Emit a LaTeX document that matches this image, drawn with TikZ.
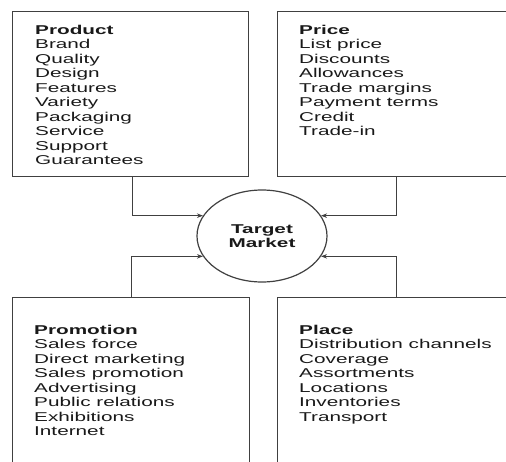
\documentclass[tikz,border=0pt]{standalone}
\usepackage{fontspec}
\setmainfont{Liberation Sans}[FakeStretch=1.62]
\usetikzlibrary{shapes.geometric,arrows.meta}

\begin{document}
\begin{tikzpicture}[x=1pt,y=-1pt,
  mixbox/.style={draw=black!75,line width=1.2pt,inner sep=0pt,anchor=north west},
  mixlist/.style={anchor=north west,inner sep=0pt,align=left,text=black!90,
    font=\fontsize{12.8}{14.5}\selectfont},
  target/.style={ellipse,draw=black!75,line width=1.2pt,inner sep=0pt,
    minimum width=130pt,minimum height=92pt,align=center,text=black!90,
    font=\bfseries\fontsize{12.8}{13.5}\selectfont},
  feed/.style={draw=black!75,line width=1.2pt,-{Stealth[length=6pt,width=4.5pt]}}]
  \useasboundingbox (0,0) rectangle (506,461);

  \node[mixbox,minimum width=236pt,minimum height=165pt] (prod) at (12,11) {};
  \node[mixbox,minimum width=228.5pt,minimum height=165pt] (price) at (277,11) {};
  \node[mixbox,minimum width=237pt,minimum height=175pt] (promo) at (12,297) {};
  \node[mixbox,minimum width=228.5pt,minimum height=175pt] (place) at (277,297) {};

  \node[target] (tm) at (262,236) {Target\\Market};

  \node[mixlist] (prodtext) at (35,25) {\textbf{Product}\\Brand\\Quality\\Design\\Features\\Variety\\Packaging\\Service\\Support\\Guarantees};
  \node[mixlist] (pricetext) at (299,25) {\textbf{Price}\\List price\\Discounts\\Allowances\\Trade margins\\Payment terms\\Credit\\Trade-in};
  \node[mixlist] (promotext) at (34,325) {\textbf{Promotion}\\Sales force\\Direct marketing\\Sales promotion\\Advertising\\Public relations\\Exhibitions\\Internet};
  \node[mixlist] (placetext) at (299,325) {\textbf{Place}\\Distribution channels\\Coverage\\Assortments\\Locations\\Inventories\\Transport};

  \draw[feed] ([xshift=2pt]prod.south) |- (tm.161);
  \draw[feed] ([xshift=4.75pt]price.south) |- (tm.19);
  \draw[feed] (promo.north) |- (tm.199);
  \draw[feed] ([xshift=4.75pt]place.north) |- (tm.341);
\end{tikzpicture}
\end{document}
